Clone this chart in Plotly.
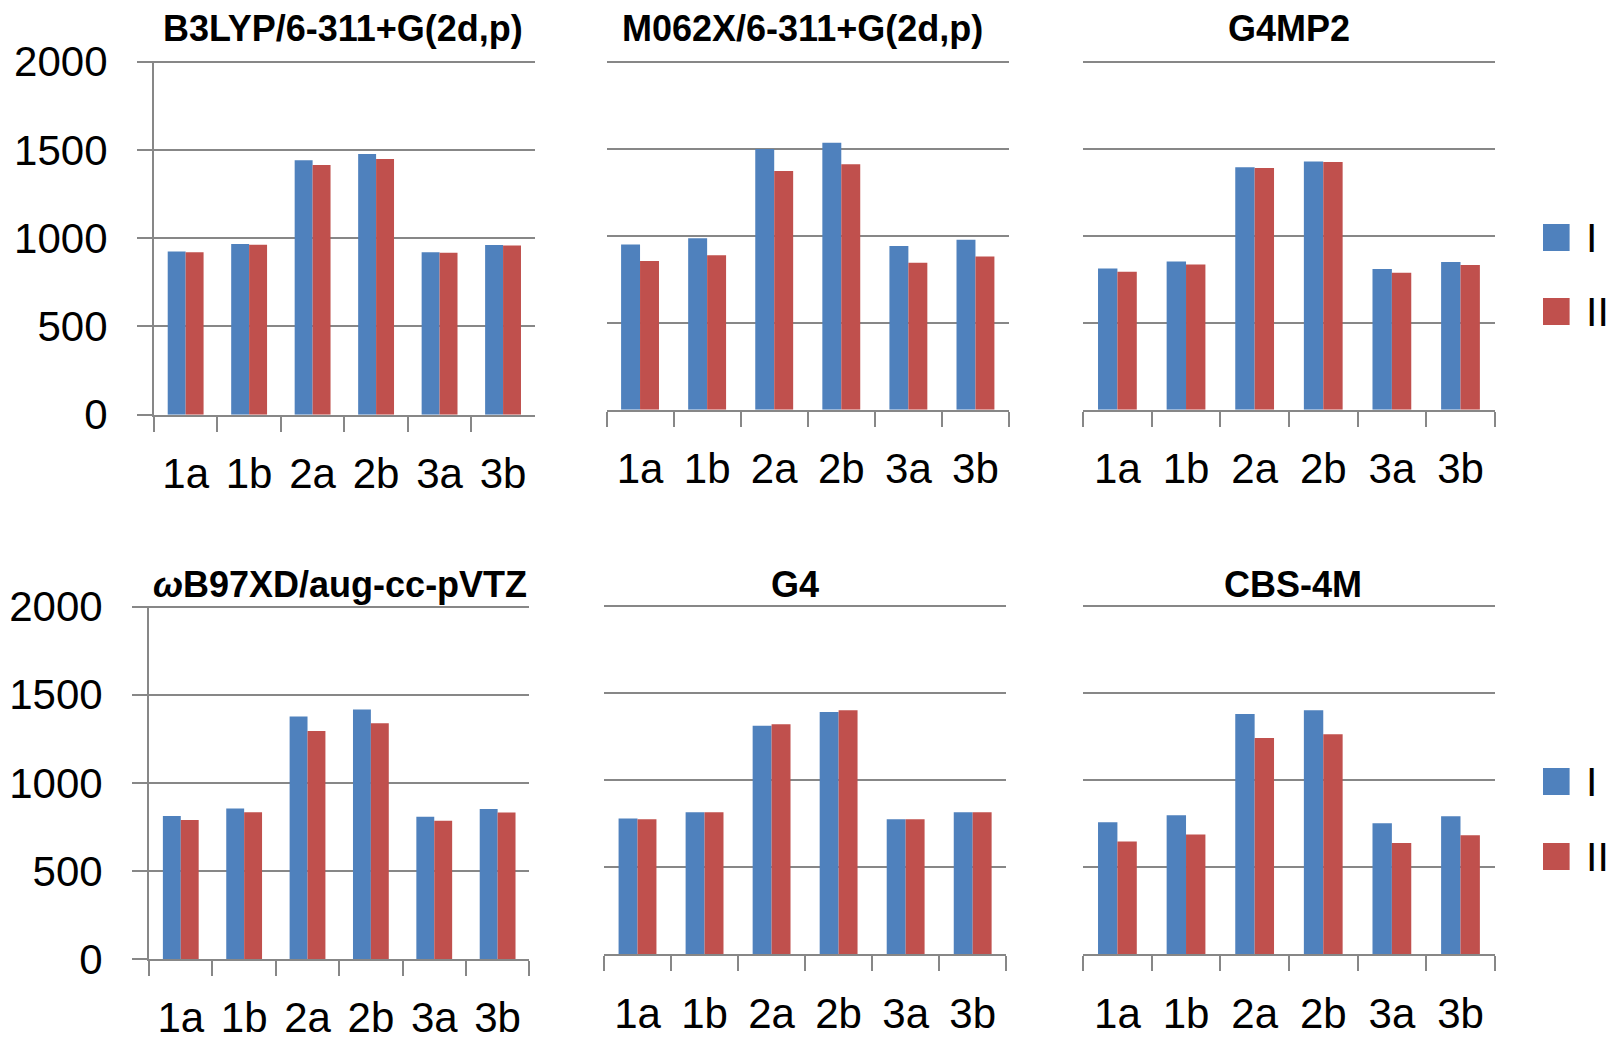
import plotly.graph_objects as go

# ---------------- data ----------------
categories = ["1a", "1b", "2a", "2b", "3a", "3b"]
series_names = ["I", "II"]
y_tick_values = [0, 500, 1000, 1500, 2000]
y_tick_labels = ["0", "500", "1000", "1500", "2000"]

panel_titles = ["B3LYP/6-311+G(2d,p)", "M062X/6-311+G(2d,p)", "G4MP2",
                "<i>ω</i>B97XD/aug-cc-pVTZ", "G4", "CBS-4M"]

b3lyp_I = [924, 967, 1441, 1477, 920, 961]
b3lyp_II = [920, 963, 1415, 1449, 918, 959]
m062x_I = [950, 985, 1498, 1534, 941, 977]
m062x_II = [854, 887, 1372, 1410, 845, 881]
g4mp2_I = [812, 852, 1393, 1427, 808, 849]
g4mp2_II = [793, 835, 1389, 1423, 787, 831]
wb97xd_I = [812, 855, 1377, 1417, 808, 851]
wb97xd_II = [789, 833, 1294, 1338, 785, 831]
g4_I = [780, 816, 1314, 1393, 776, 816]
g4_II = [776, 816, 1322, 1402, 776, 816]
cbs4m_I = [759, 799, 1381, 1402, 753, 793]
cbs4m_II = [648, 688, 1243, 1264, 640, 684]

series_I = [b3lyp_I, m062x_I, g4mp2_I, wb97xd_I, g4_I, cbs4m_I]
series_II = [b3lyp_II, m062x_II, g4mp2_II, wb97xd_II, g4_II, cbs4m_II]

# ---------------- layout geometry (pixels) ----------------
W, H = 1608, 1038
Y_MAX = 2000
Y_PAD = 6  # small headroom so the top gridline is drawn
# (x_left, x_right, y_zero, y_top(2000), title_x, title_y, show_y_axis)
geom = [
    (153.9, 534.8, 414.7, 61.7, 342.6, 28.4, True),
    (606.5, 1009.0, 409.7, 61.7, 802.5, 28.4, False),
    (1083.1, 1494.8, 409.7, 61.7, 1288.6, 28.4, False),
    (149.1, 529.3, 959.0, 606.7, 340.4, 584.2, True),
    (604.0, 1006.2, 954.3, 606.3, 794.8, 584.2, False),
    (1083.1, 1494.8, 954.3, 606.3, 1292.5, 584.2, False),
]
legend_geom = [  # square top y for I, II
    (224, 298),
    (768, 843),
]
LEG_X0, LEG_X1, LEG_TX, LEG_SQ = 1543, 1569.6, 1584, 27

BLUE = "#4F81BD"
RED = "#C0504D"
GRID = "#878787"
FONT = "Liberation Sans, Arial, sans-serif"


def px_x(x):
    return x / W


def px_y(y):
    return 1 - y / H


fig = go.Figure()
layout = dict(
    width=W, height=H,
    margin=dict(l=0, r=0, t=0, b=0, pad=0),
    template="none",
    paper_bgcolor="white", plot_bgcolor="white",
    barmode="group", bargap=0.435, bargroupgap=0,
    showlegend=False,
    font=dict(family=FONT, color="black"),
)

annotations = []
shapes = []

for i, (xl, xr, yz, yt, tx, ty, show_y) in enumerate(geom):
    n = "" if i == 0 else str(i + 1)
    xa, ya = "x" + n, "y" + n
    fig.add_trace(go.Bar(x=categories, y=series_I[i], name=series_names[0],
                         marker=dict(color=BLUE, line=dict(width=0)),
                         xaxis=xa, yaxis=ya, showlegend=False))
    fig.add_trace(go.Bar(x=categories, y=series_II[i], name=series_names[1],
                         marker=dict(color=RED, line=dict(width=0)),
                         xaxis=xa, yaxis=ya, showlegend=False))
    layout["xaxis" + n] = dict(
        domain=[px_x(xl), px_x(xr)], anchor=ya, type="category",
        categoryorder="array", categoryarray=categories,
        range=[-0.5, len(categories) - 0.5],
        showline=True, linecolor=GRID, linewidth=2,
        ticks="outside", tickson="boundaries", ticklen=15, tickwidth=2, tickcolor=GRID,
        tickfont=dict(size=42, family=FONT, color="black"),
        ticklabelstandoff=21,
        showgrid=False, zeroline=False, automargin=False, fixedrange=True,
    )
    top_px = yz - (yz - yt) * (Y_MAX + Y_PAD) / Y_MAX
    yax = dict(
        domain=[px_y(yz), px_y(top_px)], anchor=xa,
        range=[0, Y_MAX + Y_PAD], tickvals=y_tick_values, ticktext=y_tick_labels,
        showgrid=True, gridcolor=GRID, gridwidth=2, zeroline=False,
        automargin=False, fixedrange=True,
        tickfont=dict(size=42, family=FONT, color="black"),
    )
    if show_y:
        yax.update(showline=True, linecolor=GRID, linewidth=2, ticks="outside",
                   ticklen=15, tickwidth=2, tickcolor=GRID, showticklabels=True,
                   ticklabelstandoff=21)
    else:
        yax.update(showline=False, ticks="", showticklabels=False)
    layout["yaxis" + n] = yax
    annotations.append(dict(
        text=panel_titles[i], xref="paper", yref="paper",
        x=px_x(tx), y=px_y(ty), xanchor="center", yanchor="middle",
        showarrow=False, font=dict(size=36, family=FONT, color="black", weight="bold"),
    ))

for (yb, yr) in legend_geom:
    for ytop, col, name in ((yb, BLUE, series_names[0]), (yr, RED, series_names[1])):
        shapes.append(dict(type="rect", xref="paper", yref="paper",
                           x0=px_x(LEG_X0), x1=px_x(LEG_X1),
                           y0=px_y(ytop + LEG_SQ), y1=px_y(ytop),
                           fillcolor=col, line=dict(width=0)))
        annotations.append(dict(
            text=name, xref="paper", yref="paper",
            x=px_x(LEG_TX), y=px_y(ytop + LEG_SQ / 2), xanchor="left", yanchor="middle",
            showarrow=False, font=dict(size=41, family=FONT, color="black"),
        ))

layout["annotations"] = annotations
layout["shapes"] = shapes
fig.update_layout(**layout)

fig.write_html("out.html", config={"displayModeBar": False},
               post_script="document.body.style.margin='0';document.body.style.overflow='hidden';")
